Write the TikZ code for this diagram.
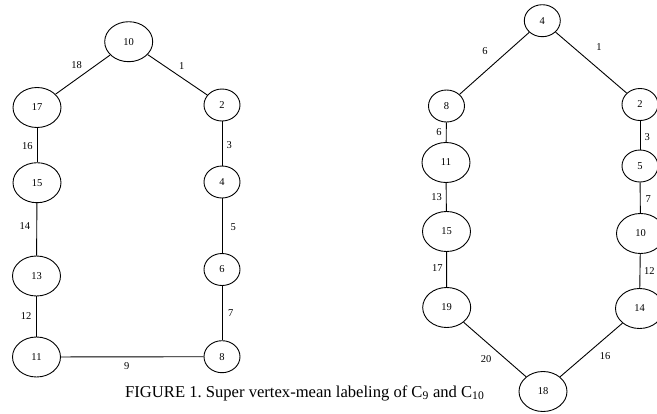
\documentclass[tikz,border=0pt]{standalone}
\usepackage{fontspec}
\setmainfont{Liberation Serif}
\usetikzlibrary{shapes.geometric}
\frenchspacing
\tikzset{
  % Vertex styles
  bigvertex/.style={ellipse, draw, line width=0.9pt, inner sep=0pt, minimum width=48pt, minimum height=40pt, font=\fontsize{10.5}{12}\selectfont},
  smallvertex/.style={ellipse, draw, line width=0.9pt, inner sep=0pt, minimum width=36pt, minimum height=32pt, font=\fontsize{10.5}{12}\selectfont},
  % Label styles
  edgelabel/.style={inner sep=0pt, font=\fontsize{10.5}{12}\selectfont},
  % Edge styles
  edge/.style={line width=0.9pt}
}

\begin{document}
\begin{tikzpicture}[x=1pt, y=-1pt]
  \useasboundingbox (0,0) rectangle (657,413);

  % Cycle C9
  \node[bigvertex] (a10) at (128.7,41.7) {10};
  \node[smallvertex] (a2) at (222,105) {2};
  \node[smallvertex] (a4) at (222,182) {4};
  \node[smallvertex] (a6) at (222,269.5) {6};
  \node[smallvertex] (a8) at (222,356.7) {8};
  \node[bigvertex] (a11) at (36.5,357) {11};
  \node[bigvertex] (a13) at (36.5,276) {13};
  \node[bigvertex] (a15) at (37,182.7) {15};
  \node[bigvertex] (a17) at (37,107.5) {17};

  \draw[edge] (a10) -- (a2);
  \draw[edge] (a2) -- (a4);
  \draw[edge] (a4) -- (a6);
  \draw[edge] (a6) -- (a8);
  \draw[edge] (a8) -- (a11);
  \draw[edge] (a11) -- (a13);
  \draw[edge] (a13) -- (a15);
  \draw[edge] (a15) -- (a17);
  \draw[edge] (a17) -- (a10);

  \node[edgelabel] (l1) at (181.7,66) {1};
  \node[edgelabel] (l3) at (229.3,145.3) {3};
  \node[edgelabel] (l5) at (233.3,226.7) {5};
  \node[edgelabel] (l7) at (230.7,313.3) {7};
  \node[edgelabel] (l9) at (126.7,365.7) {9};
  \node[edgelabel] (l12) at (26,316) {12};
  \node[edgelabel] (l14) at (25,226) {14};
  \node[edgelabel] (l16) at (27.3,146) {16};
  \node[edgelabel] (l18) at (76.7,65) {18};

  % Cycle C10
  \node[smallvertex] (b4) at (542.3,20.7) {4};
  \node[smallvertex] (b2) at (640,104.5) {2};
  \node[smallvertex] (b5) at (640,166) {5};
  \node[bigvertex] (b10) at (640.5,233.5) {10};
  \node[bigvertex] (b14) at (639.5,308.5) {14};
  \node[bigvertex] (b18) at (543,391.5) {18};
  \node[bigvertex] (b19) at (446.7,307.5) {19};
  \node[bigvertex] (b15) at (446.5,231.5) {15};
  \node[bigvertex] (b11) at (446,162.5) {11};
  \node[smallvertex] (b8) at (446.5,106) {8};

  \draw[edge] (b4) -- (b2);
  \draw[edge] (b2) -- (b5);
  \draw[edge] (b5) -- (b10);
  \draw[edge] (b10) -- (b14);
  \draw[edge] (b14) -- (b18);
  \draw[edge] (b18) -- (b19);
  \draw[edge] (b19) -- (b15);
  \draw[edge] (b15) -- (b11);
  \draw[edge] (b11) -- (b8);
  \draw[edge] (b8) -- (b4);

  \node[edgelabel] (m1) at (599,46.7) {1};
  \node[edgelabel] (m3) at (647.3,136.7) {3};
  \node[edgelabel] (m7) at (648.3,199) {7};
  \node[edgelabel] (m12) at (649.3,270.7) {12};
  \node[edgelabel] (m16) at (605,355.7) {16};
  \node[edgelabel] (m20) at (486,359.3) {20};
  \node[edgelabel] (m17) at (437.3,268.3) {17};
  \node[edgelabel] (m13) at (436.7,197.3) {13};
  \node[edgelabel] (m6b) at (439,131.7) {6};
  \node[edgelabel] (m6a) at (485,50.7) {6};

  % Caption
  \node[inner sep=0pt, anchor=west, font=\fontsize{16.6}{19}\selectfont] (caption) at (125,393)
    {FIGURE 1. Super vertex-mean labeling of C\textsubscript{9} and C\textsubscript{10}};
\end{tikzpicture}
\end{document}
